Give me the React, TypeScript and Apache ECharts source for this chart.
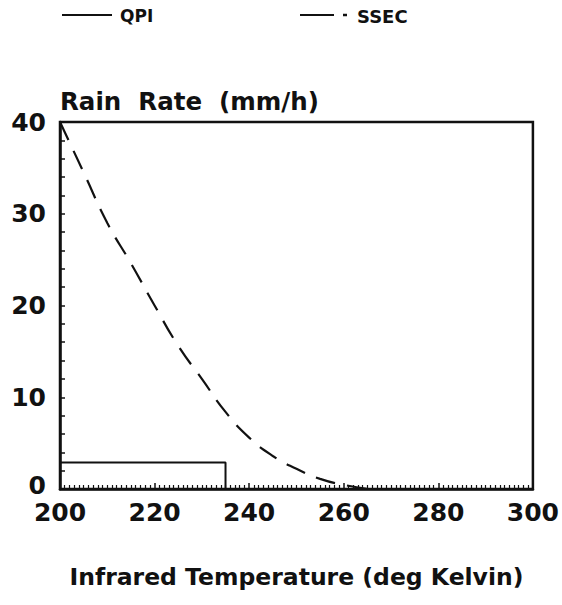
import React, { useEffect, useRef } from "react";
import * as echarts from "echarts";

const qpiTemps = [200, 235, 235];
const qpiRates = [2.9, 2.9, 0];

const ssecTemps = [200, 205, 210, 215, 220, 225, 230, 235, 240, 245, 250, 255, 260, 265];
const ssecRates = [40, 34.5, 29, 24.6, 20, 15.6, 12, 8.4, 5.6, 3.6, 2.2, 1.1, 0.45, 0];

const xTicks = [200, 220, 240, 260, 280, 300];
const yTicks = [0, 10, 20, 30, 40];

const FONT = "DejaVu Sans";
const INK = "#111";

export default function App() {
  const ref = useRef<HTMLDivElement>(null);
  useEffect(() => {
    if (!ref.current) return;
    const chart = echarts.init(ref.current, null, { renderer: "svg" });
    chart.setOption({
      animation: false,
      backgroundColor: "#fff",
      grid: {
        left: 60,
        right: 27,
        top: 122,
        bottom: 116,
        show: true,
        borderColor: INK,
        borderWidth: 2.5,
      },
      xAxis: {
        type: "value",
        min: xTicks[0],
        max: xTicks[xTicks.length - 1],
        interval: 20,
        name: "Infrared Temperature (deg Kelvin)",
        nameLocation: "middle",
        nameGap: 76,
        nameTextStyle: { fontFamily: FONT, fontWeight: "bold", fontSize: 23.5, color: INK },
        axisLine: { show: true, lineStyle: { color: INK, width: 2.5 } },
        axisTick: { show: true, inside: true, length: 6, lineStyle: { color: INK, width: 1.5 } },
        minorTick: { show: true, splitNumber: 20, length: 4, lineStyle: { color: INK, width: 1.2 } },
        splitLine: { show: false },
        axisLabel: {
          margin: 11,
          fontFamily: FONT,
          fontWeight: "bold",
          fontSize: 25,
          color: INK,
        },
      },
      yAxis: {
        type: "value",
        min: yTicks[0],
        max: yTicks[yTicks.length - 1],
        interval: 10,
        name: "Rain  Rate  (mm/h)",
        nameLocation: "end",
        nameGap: 8,
        nameTextStyle: {
          fontFamily: FONT,
          fontWeight: "bold",
          fontSize: 24.5,
          color: INK,
          align: "left",
          verticalAlign: "bottom",
        },
        axisLine: { show: true, lineStyle: { color: INK, width: 2.5 } },
        axisTick: { show: true, inside: true, length: 5, lineStyle: { color: INK, width: 1.5 } },
        minorTick: { show: true, splitNumber: 5, length: 5, lineStyle: { color: INK, width: 1.5 } },
        splitLine: { show: false },
        axisLabel: {
          margin: 14,
          fontFamily: FONT,
          fontWeight: "bold",
          fontSize: 25,
          color: INK,
          formatter: (v: number) => (v === 0 ? "{z|0}" : String(v)),
          rich: {
            z: {
              fontFamily: FONT,
              fontWeight: "bold",
              fontSize: 25,
              color: INK,
              lineHeight: 22,
              padding: [0, 0, 8, 0],
            },
          },
        },
      },
      series: [
        {
          name: "QPI",
          type: "line",
          data: qpiTemps.map((t, i) => [t, qpiRates[i]]),
          symbol: "none",
          lineStyle: { color: INK, width: 2 },
        },
        {
          name: "SSEC",
          type: "line",
          smooth: true,
          data: ssecTemps.map((t, i) => [t, ssecRates[i]]),
          symbol: "none",
          lineStyle: { color: INK, width: 2.2, type: [20, 12] },
        },
      ],
      graphic: [
        { type: "line", shape: { x1: 62, y1: 15, x2: 112, y2: 15 }, style: { stroke: INK, lineWidth: 2 } },
        {
          type: "text",
          x: 120,
          y: 16,
          style: { text: "QPI", fontFamily: FONT, fontWeight: "bold", fontSize: 17, fill: INK, verticalAlign: "middle" },
        },
        { type: "line", shape: { x1: 300, y1: 15, x2: 334, y2: 15 }, style: { stroke: INK, lineWidth: 2 } },
        { type: "line", shape: { x1: 343, y1: 15, x2: 347, y2: 15 }, style: { stroke: INK, lineWidth: 2.5 } },
        {
          type: "text",
          x: 357,
          y: 16,
          style: { text: "SSEC", fontFamily: FONT, fontWeight: "bold", fontSize: 18, fill: INK, verticalAlign: "middle" },
        },
      ],
    });
    return () => chart.dispose();
  }, []);
  return (
    <div
      ref={ref}
      style={{ position: "fixed", left: 0, top: 0, width: 562, height: 605, background: "#fff" }}
    />
  );
}
